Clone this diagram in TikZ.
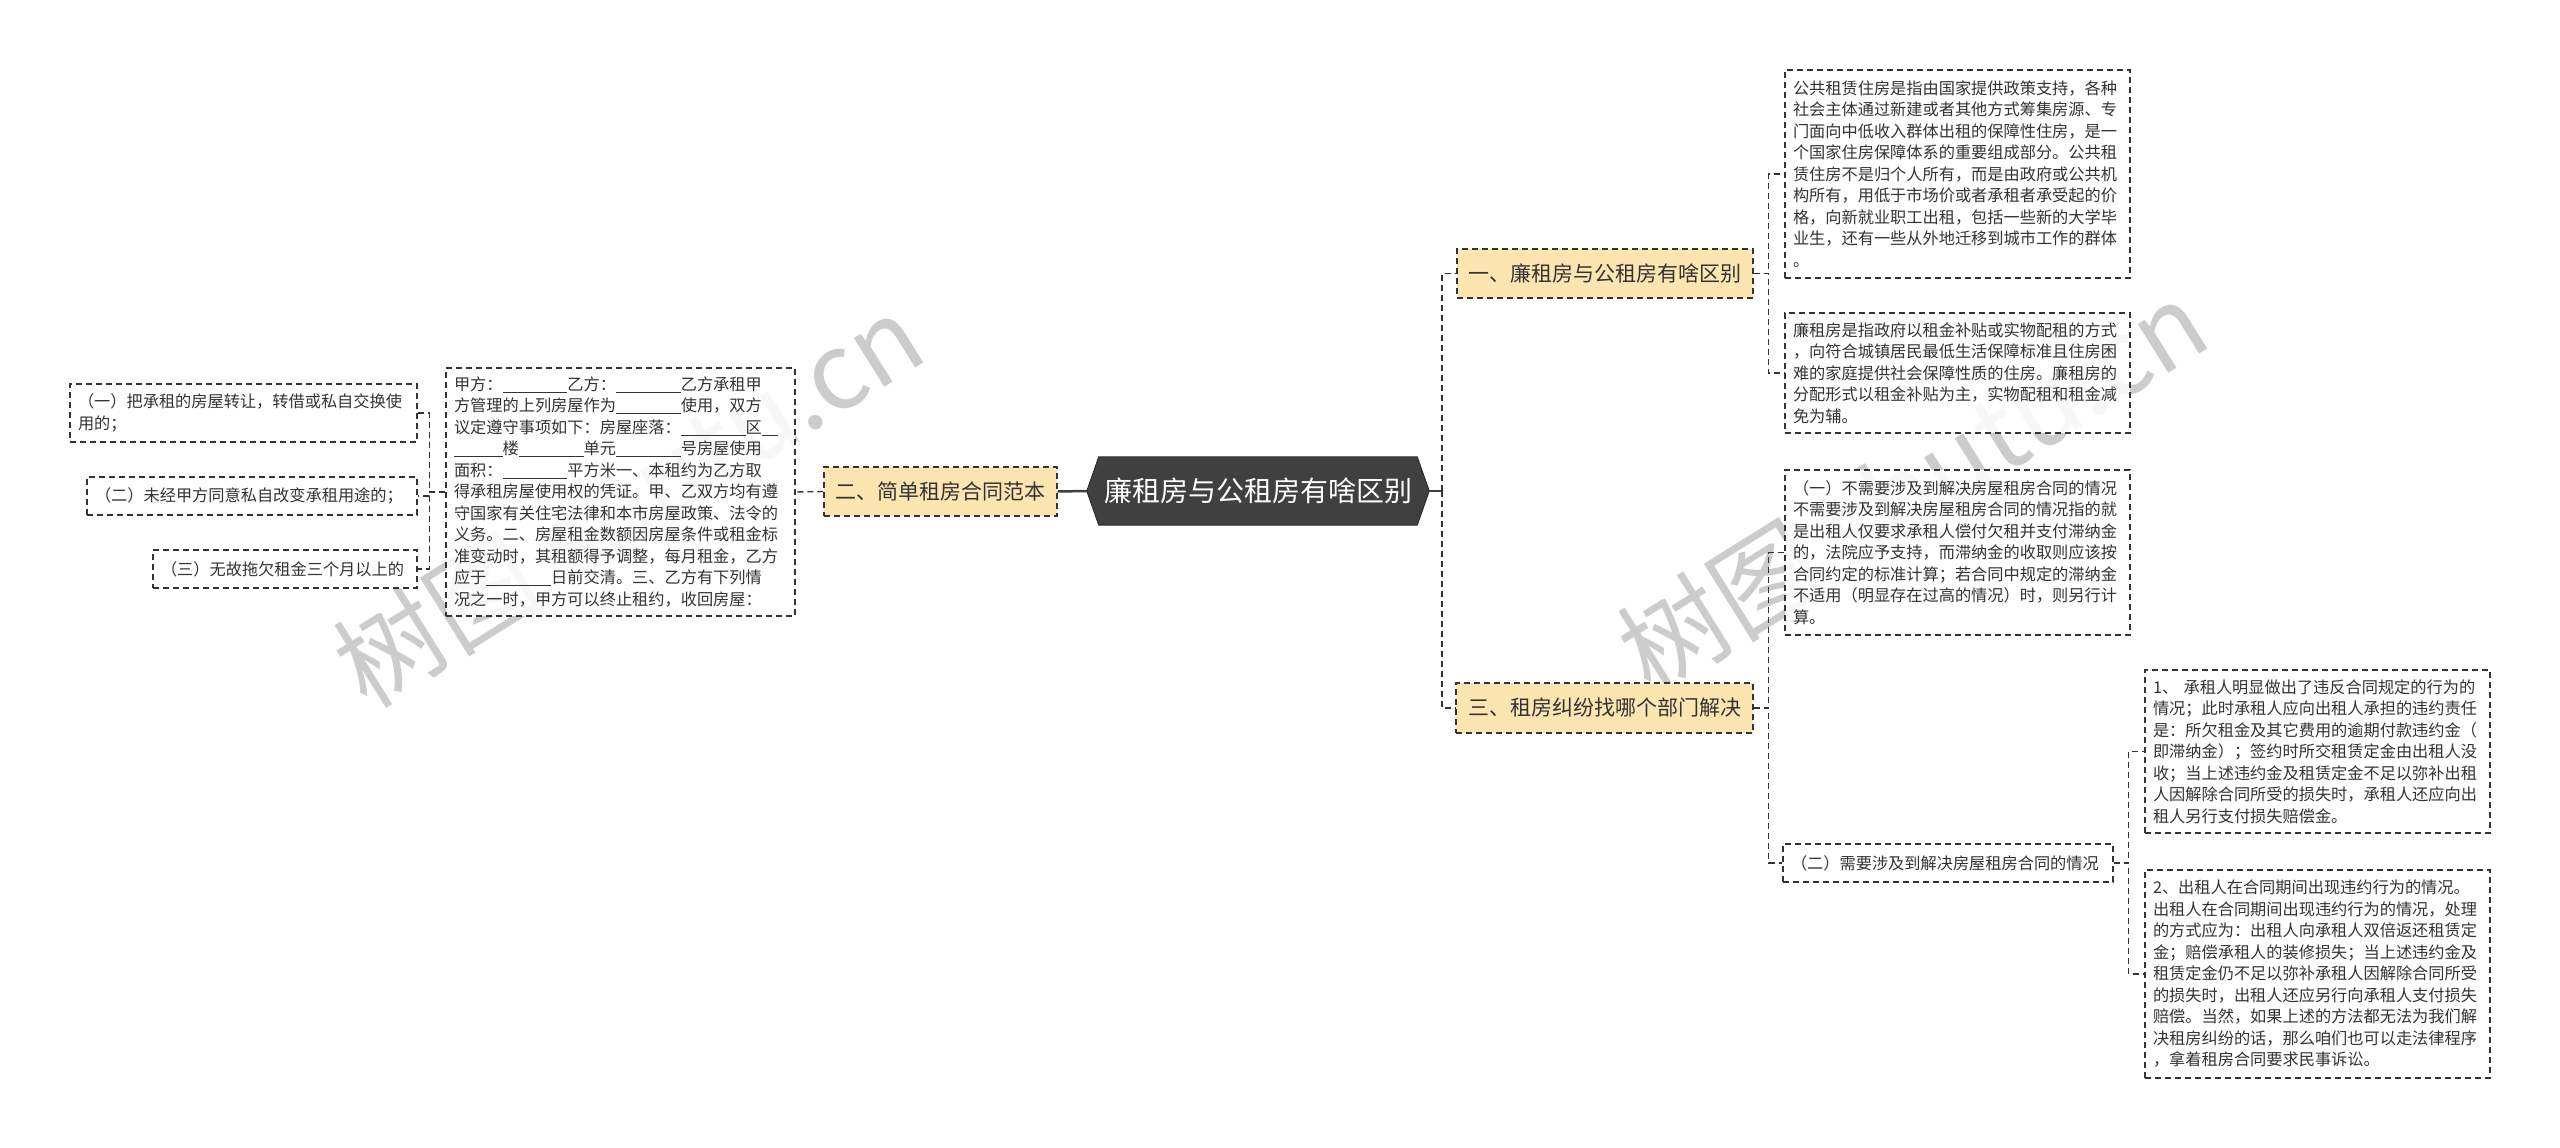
\documentclass[tikz,border=0pt]{standalone}
\usepackage{fontspec}
\setmainfont{Noto Sans CJK SC}
\usetikzlibrary{backgrounds}
\definecolor{rootgray}{HTML}{404040}
\definecolor{topicfill}{HTML}{FDE5B2}
\definecolor{inkgray}{HTML}{333333}
\newcommand{\blank}[1]{\rule[-0.14em]{#1em}{0.07em}}
\begin{document}
\begin{tikzpicture}[x=1pt,y=-1pt,
    leaf/.style 2 args={draw=inkgray,line width=1.2pt,dash pattern=on 6pt off 4pt,text=inkgray,
      fill=white,fill opacity=0.85,draw opacity=1,text opacity=1,
      align=left,text width=#1,minimum height=#2,inner xsep=8pt,inner ysep=0pt,
      font=\fontsize{16.2}{21.5}\selectfont},
    topic/.style 2 args={draw=inkgray,line width=1.2pt,dash pattern=on 6pt off 4pt,fill=topicfill,
      text=inkgray,minimum width=#1,minimum height=#2,inner sep=0pt,font=\fontsize{21}{25}\selectfont},
    rootnode/.style={text=white,minimum width=318,minimum height=68,inner sep=0pt,
      font=\fontsize{28}{32}\selectfont},
    wmtext/.style={text=black!20,inner sep=0pt,font=\fontsize{106}{116}\selectfont},
    link/.style={draw=inkgray,line width=1.4pt,dash pattern=on 6pt off 4pt},
    trunk/.style={draw=rootgray,line width=2.5pt}]
    \useasboundingbox (0,0) rectangle (2560,1148);
    % watermarks
    \node[wmtext,rotate=32] (wm1) at (628,500) {树图 shutu.cn};
    \node[wmtext,rotate=32] (wm2) at (1912,486) {树图 shutu.cn};
    % centre and main topics
    \node[rootnode] (root) at (1258,491) {廉租房与公租房有啥区别};
    \node[topic={296}{49}] (b1) at (1605,273.5) {一、廉租房与公租房有啥区别};
    \node[topic={233}{49}] (b2) at (940.5,491.5) {二、简单租房合同范本};
    \node[topic={297}{50}] (b3) at (1604.5,708) {三、租房纠纷找哪个部门解决};
    \begin{scope}[on background layer]
        \fill[white] (0,0) rectangle (2560,1148);
        \filldraw[fill=rootgray,draw=rootgray!70!black,line width=1pt] (root.north west) -- (root.north east)
            -- ([xshift=12pt]root.east) -- (root.south east) -- (root.south west)
            -- ([xshift=-12pt]root.west) -- cycle;
    \end{scope}
    % right side
    \node[leaf={329}{208}] (pa) at (1957.5,174) {公共租赁住房是指由国家提供政策支持，各种\\社会主体通过新建或者其他方式筹集房源、专\\门面向中低收入群体出租的保障性住房，是一\\个国家住房保障体系的重要组成部分。公共租\\赁住房不是归个人所有，而是由政府或公共机\\构所有，用低于市场价或者承租者承受起的价\\格，向新就业职工出租，包括一些新的大学毕\\业生，还有一些从外地迁移到城市工作的群体\\。};
    \node[leaf={329}{120}] (pb) at (1957.5,373) {廉租房是指政府以租金补贴或实物配租的方式\\，向符合城镇居民最低生活保障标准且住房困\\难的家庭提供社会保障性质的住房。廉租房的\\分配形式以租金补贴为主，实物配租和租金减\\免为辅。};
    \node[leaf={329}{165}] (pc) at (1957.5,552.5) {（一）不需要涉及到解决房屋租房合同的情况\\不需要涉及到解决房屋租房合同的情况指的就\\是出租人仅要求承租人偿付欠租并支付滞纳金\\的，法院应予支持，而滞纳金的收取则应该按\\合同约定的标准计算；若合同中规定的滞纳金\\不适用（明显存在过高的情况）时，则另行计\\算。};
    \node[leaf={314}{38}] (pd) at (1948,863) {（二）需要涉及到解决房屋租房合同的情况};
    \node[leaf={329}{163}] (pe) at (2317.5,751.5) {1、 承租人明显做出了违反合同规定的行为的\\情况；此时承租人应向出租人承担的违约责任\\是：所欠租金及其它费用的逾期付款违约金（\\即滞纳金）；签约时所交租赁定金由出租人没\\收；当上述违约金及租赁定金不足以弥补出租\\人因解除合同所受的损失时，承租人还应向出\\租人另行支付损失赔偿金。};
    \node[leaf={329}{208}] (pf) at (2317.5,974) {2、出租人在合同期间出现违约行为的情况。\\出租人在合同期间出现违约行为的情况，处理\\的方式应为：出租人向承租人双倍返还租赁定\\金；赔偿承租人的装修损失；当上述违约金及\\租赁定金仍不足以弥补承租人因解除合同所受\\的损失时，出租人还应另行向承租人支付损失\\赔偿。当然，如果上述的方法都无法为我们解\\决租房纠纷的话，那么咱们也可以走法律程序\\，拿着租房合同要求民事诉讼。};
    % left side
    \node[leaf={333}{248}] (cp) at (620.5,492) {甲方：\blank{4}乙方：\blank{4}乙方承租甲\\方管理的上列房屋作为\blank{4}使用，双方\\议定遵守事项如下：房屋座落：\blank{4}区\blank{1}\\\blank{3}楼\blank{4}单元\blank{4}号房屋使用\\面积：\blank{4}平方米一、本租约为乙方取\\得承租房屋使用权的凭证。甲、乙双方均有遵\\守国家有关住宅法律和本市房屋政策、法令的\\义务。二、房屋租金数额因房屋条件或租金标\\准变动时，其租额得予调整，每月租金，乙方\\应于\blank{4}日前交清。三、乙方有下列情\\况之一时，甲方可以终止租约，收回房屋：};
    \node[leaf={331}{58}] (l1) at (243.5,413) {（一）把承租的房屋转让，转借或私自交换使\\用的；};
    \node[leaf={314}{38}] (l2) at (252,496) {（二）未经甲方同意私自改变承租用途的；};
    \node[leaf={248}{38}] (l3) at (285,569) {（三）无故拖欠租金三个月以上的};
    % connectors
    \coordinate (rj) at (1442,491);
    \draw[trunk] ([xshift=12pt]root.east) -- (rj);
    \draw[trunk] ([xshift=-12pt]root.west) -- (b2.east);
    \draw[link] (rj) |- (b1.west);
    \draw[link] (rj) |- (b3.west);
    \draw[link] (b1.east) -- ++(15,0) |- (pa.west);
    \draw[link] (b1.east) -- ++(15,0) |- (pb.west);
    \draw[link] (b3.east) -- ++(15,0) |- (pc.west);
    \draw[link] (b3.east) -- ++(15,0) |- (pd.west);
    \draw[link] (pd.east) -- ++(15,0) |- (pe.west);
    \draw[link] (pd.east) -- ++(15,0) |- (pf.west);
    \draw[link] (b2.west) -- (cp.east);
    \draw[link] (cp.west) -- ++(-16,0) |- (l1.east);
    \draw[link] (cp.west) -- ++(-16,0) |- (l2.east);
    \draw[link] (cp.west) -- ++(-16,0) |- (l3.east);
\end{tikzpicture}
\end{document}
